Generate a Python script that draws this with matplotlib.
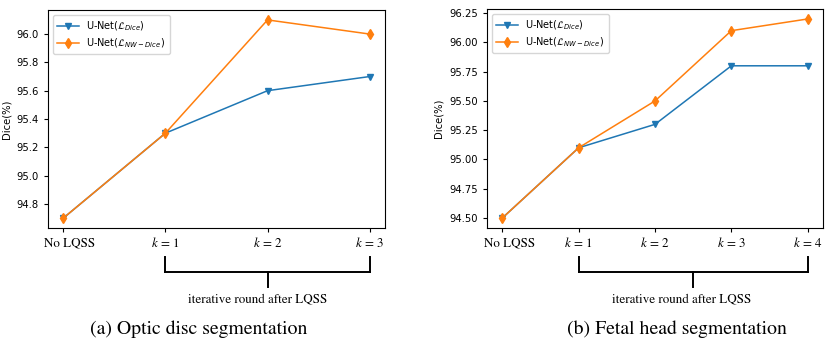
import matplotlib
matplotlib.use("Agg")
import matplotlib.pyplot as plt
from matplotlib.transforms import blended_transform_factory
from matplotlib.lines import Line2D

# ---- data ----
cats_a = ["No LQSS", "$k$ = 1", "$k$ = 2", "$k$ = 3"]
dice_a = [94.7, 95.3, 95.6, 95.7]
nw_a = [94.7, 95.3, 96.1, 96.0]
yticks_a = [94.8, 95.0, 95.2, 95.4, 95.6, 95.8, 96.0]

cats_b = ["No LQSS", "$k$ = 1", "$k$ = 2", "$k$ = 3", "$k$ = 4"]
dice_b = [94.5, 95.1, 95.3, 95.8, 95.8]
nw_b = [94.5, 95.1, 95.5, 96.1, 96.2]
yticks_b = [94.50, 94.75, 95.00, 95.25, 95.50, 95.75, 96.00, 96.25]

label_dice = r"U-Net($\mathcal{L}_{Dice}$)"
label_nw = r"U-Net($\mathcal{L}_{NW-Dice}$)"
bracket_text = "iterative round after LQSS"
captions = ["(a) Optic disc segmentation", "(b) Fetal head segmentation"]

plt.rcParams["font.family"] = "DejaVu Sans"
plt.rcParams["mathtext.fontset"] = "dejavusans"

fig = plt.figure(figsize=(8.31, 3.44), dpi=100)
W, H = 831, 344

def make_panel(rect_px, cats, dice, nw, yticks, fmt, caption, cap_x, first_shift):
    l, t, r, b = rect_px
    ax = fig.add_axes([l / W, 1 - b / H, (r - l) / W, (b - t) / H])
    x = list(range(len(cats)))
    ax.plot(x, dice, marker="v", color="#1f77b4", lw=1.1, ms=4.5, label=label_dice)
    ax.plot(x, nw, marker="d", color="#ff7f0e", lw=1.1, ms=5, label=label_nw)
    ax.set_xticks(x)
    ax.set_xticklabels([""] + cats[1:])
    for lab in ax.get_xticklabels():
        lab.set_fontfamily("STIXGeneral")
        lab.set_fontsize(9.4)
        lab.set_math_fontfamily("stix")
    bt = blended_transform_factory(ax.transData, ax.transAxes)
    # first category label, drawn slightly right of its tick as in the source
    ax.annotate(cats[0], xy=(x[0], 0), xycoords=bt, xytext=(first_shift, -10),
                textcoords="offset pixels", ha="center", va="top",
                fontsize=9.4, fontfamily="STIXGeneral", annotation_clip=False)
    ax.set_yticks(yticks)
    ax.set_yticklabels([fmt.format(v) for v in yticks])
    ax.tick_params(axis="y", labelsize=7.2, length=3, width=0.8)
    ax.tick_params(axis="x", length=3, width=0.8, pad=3)
    ax.set_ylabel("Dice(%)", fontsize=7.2)
    ax.legend(loc="upper left", fontsize=7, handlelength=2.2,
              borderpad=0.45, labelspacing=0.35, framealpha=0.8)
    # bracket
    hpx = b - t
    y_top = (b - 257) / hpx
    y_mid = (b - 272) / hpx
    y_bot = (b - 287) / hpx
    y_txt = (b - 299) / hpx
    x1, x2 = x[1], x[-1]
    xc = (x1 + x2) / 2
    for xs, ys in [([x1, x1], [y_top, y_mid]), ([x2, x2], [y_top, y_mid]),
                   ([x1, x2], [y_mid, y_mid]), ([xc, xc], [y_mid, y_bot])]:
        ln = Line2D(xs, ys, transform=bt, color="black", lw=1.4, clip_on=False,
                    solid_capstyle="projecting")
        ax.add_line(ln)
    ax.text(xc - 0.1 * (x2 - x1) / 2, y_txt, bracket_text, transform=bt,
            ha="center", va="center", fontsize=9.4, fontfamily="STIXGeneral")
    fig.text(cap_x / W, 1 - 329 / H, caption, ha="center", va="center",
             fontsize=14.2, fontfamily="STIXGeneral")
    return ax

make_panel((48, 10, 385, 228), cats_a, dice_a, nw_a, yticks_a, "{:.1f}",
           captions[0], 199, 6)
make_panel((487, 9, 823, 228), cats_b, dice_b, nw_b, yticks_b, "{:.2f}",
           captions[1], 677, 7)

fig.savefig("out.png", dpi=100)
